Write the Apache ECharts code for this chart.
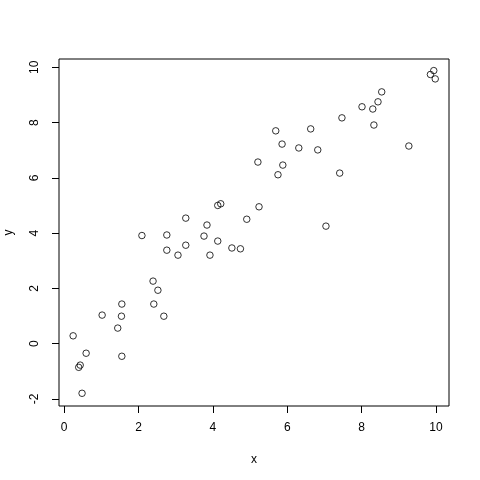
<!DOCTYPE html>
<html>
<head>
<meta charset="utf-8">
<script src="https://cdn.jsdelivr.net/npm/echarts@6/dist/echarts.min.js"></script>
<style>html,body{margin:0;padding:0;background:#fff}#c{width:480px;height:480px}</style>
</head>
<body>
<div id="c"></div>
<script>
const xValues = [0.24,0.59,0.43,0.39,0.48,1.02,1.44,1.55,1.54,1.55,2.09,2.39,2.52,2.41,2.68,2.76,2.76,3.06,3.27,3.27,3.76,3.84,4.13,3.92,4.51,4.74,4.13,4.21,4.91,7.04,5.24,5.21,5.75,5.88,5.86,5.69,6.31,6.63,6.82,7.41,7.47,8.01,8.30,8.33,8.44,8.54,9.27,9.85,9.94,9.98];
const yValues = [0.28,-0.35,-0.78,-0.86,-1.80,1.03,0.56,1.43,0.99,-0.46,3.91,2.26,1.93,1.43,0.99,3.93,3.38,3.20,3.56,4.54,3.89,4.29,3.71,3.20,3.46,3.43,5.00,5.06,4.50,4.25,4.95,6.57,6.11,6.46,7.22,7.70,7.08,7.77,7.01,6.17,8.17,8.57,8.49,7.91,8.75,9.11,7.15,9.74,9.88,9.58];
const xTicks = [0,2,4,6,8,10];
const yTicks = [-2,0,2,4,6,8,10];

const points = xValues.map((x,i)=>[x,yValues[i]]);
const font = 'Liberation Sans';
const chart = echarts.init(document.getElementById('c'));
chart.setOption({
  animation:false,
  backgroundColor:'#fff',
  grid:{left:59,right:31,top:59,bottom:74,containLabel:false,outerBoundsMode:'none',show:true,borderColor:'#000',borderWidth:1,backgroundColor:'transparent'},
  xAxis:{
    type:'value',min:-0.14,max:10.35,
    name:'x',nameLocation:'middle',nameGap:48,
    nameTextStyle:{color:'#000',fontFamily:font,fontSize:12},
    axisLine:{show:false,onZero:false},
    splitLine:{show:false},
    axisTick:{show:true,inside:false,length:7,lineStyle:{color:'#000'},customValues:xTicks},
    axisLabel:{color:'#000',fontFamily:font,fontSize:12,margin:16,customValues:xTicks}
  },
  yAxis:{
    type:'value',min:-2.26,max:10.30,
    name:'y',nameLocation:'middle',nameGap:44,
    nameTextStyle:{color:'#000',fontFamily:font,fontSize:12},
    axisLine:{show:false,onZero:false},
    splitLine:{show:false},
    axisTick:{show:true,inside:false,length:7,lineStyle:{color:'#000'},customValues:yTicks},
    axisLabel:{color:'#000',fontFamily:font,fontSize:12,margin:18,rotate:90,customValues:yTicks}
  },
  series:[{
    type:'scatter',
    data:points,
    symbol:'circle',
    symbolSize:6.5,
    itemStyle:{color:'rgba(0,0,0,0)',borderColor:'#000',borderWidth:1},
    emphasis:{disabled:true}
  }]
});
</script>
</body>
</html>
